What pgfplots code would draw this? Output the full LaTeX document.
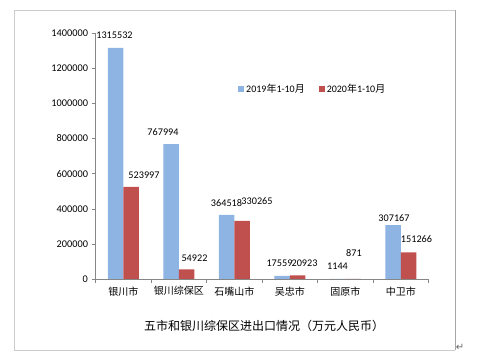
\documentclass[border=0pt]{standalone}
\usepackage{pgfplots}
\pgfplotsset{compat=1.18}
\usepackage{pgfplotstable}
\usepackage{fontspec}
\setmainfont{Carlito}
\newfontfamily\cjk{Noto Sans CJK SC}
\newfontfamily\dejavu{DejaVu Sans}
\definecolor{cblue}{RGB}{141,180,227}
\definecolor{cred}{RGB}{192,80,77}
\definecolor{axgray}{RGB}{134,134,134}
\pgfplotstableread{
x y dx dy lab
0 1315532 -1 13 1315532
1 767994 -8 12 767994
2 364518 0 12 364518
3 17559 -2.5 13 17559
4 1144 0 13 1144
5 307167 1 7 307167
}\tabA
\pgfplotstableread{
x y dx dy lab
0 523997 13 12 523997
1 54922 8 11 54922
2 330265 15 20 330265
3 20923 7 12 20923
4 871 1 26 871
5 151266 8 13 151266
}\tabB
\begin{document}
\begin{tikzpicture}[x=1pt,y=1pt]
\path[use as bounding box] (0,0) rectangle (478,358);
\draw[color=gray!40, line width=0.8pt] (14,8) -- (14,348) -- (455,348);
\draw[color=gray!40, line width=0.8pt] (14,8) -- (455,8);
\draw[color=gray!70, line width=0.8pt] (455,8) -- (455,348);
\begin{axis}[
 at={(95.5pt,79pt)}, anchor=south west,
 scale only axis, width=333pt, height=246pt,
 xmin=-0.5, xmax=5.5, ymin=0, ymax=1400000,
 ybar=0pt, bar width=15.5pt,
 clip=false,
 axis lines=left, axis line style={-, draw=axgray},
 xtick={0,...,5},
 xticklabels={银川市,银川综保区,石嘴山市,吴忠市,固原市,中卫市},
 major x tick style={draw=none},
 minor xtick={-0.5,0.5,1.5,2.5,3.5,4.5,5.5},
 minor x tick style={draw=axgray},
 minor tick length=4pt,
 ytick={0,200000,...,1400000},
 y tick style={draw=axgray}, major tick length=4pt,
 tick align=outside,
 scaled y ticks=false,
 yticklabel style={/pgf/number format/fixed, /pgf/number format/set thousands separator={}, /pgf/number format/assume math mode=true, font=\fontsize{10.3}{12}\selectfont},
 xticklabel style={font=\cjk\fontsize{10}{12}\selectfont},
 legend style={at={(0.419,0.772)}, anchor=west, draw=none, fill=none, legend columns=2, font=\fontsize{10}{12}\selectfont, /tikz/every even column/.append style={column sep=12pt}},
 legend image code/.code={\fill[#1,draw=none] (0pt,-3pt) rectangle (6pt,3pt);},
]
\addplot[fill=cblue, draw=none, nodes near coords, point meta=explicit symbolic,
 visualization depends on={\thisrow{dx}\as\dx},
 visualization depends on={\thisrow{dy}\as\dy},
 nodes near coords style={anchor=center, xshift=\dx, yshift=\dy, font=\fontsize{10.2}{12}\selectfont, text=black}]
 table[x=x, y=y, meta=lab] {\tabA};
\addlegendentry{2019{\cjk 年}1-10{\cjk 月}}
\addplot[fill=cred, draw=none, nodes near coords, point meta=explicit symbolic,
 visualization depends on={\thisrow{dx}\as\dx},
 visualization depends on={\thisrow{dy}\as\dy},
 nodes near coords style={anchor=center, xshift=\dx, yshift=\dy, font=\fontsize{10.2}{12}\selectfont, text=black}]
 table[x=x, y=y, meta=lab] {\tabB};
\addlegendentry{2020{\cjk 年}1-10{\cjk 月}}
\end{axis}
\node[font=\cjk\fontsize{12}{14}\selectfont] at (264,32) {五市和银川综保区进出口情况（万元人民币）};
\node[text=gray!80!black, font=\dejavu\fontsize{10}{11}\selectfont] at (460,11) {↵};
\end{tikzpicture}
\end{document}
